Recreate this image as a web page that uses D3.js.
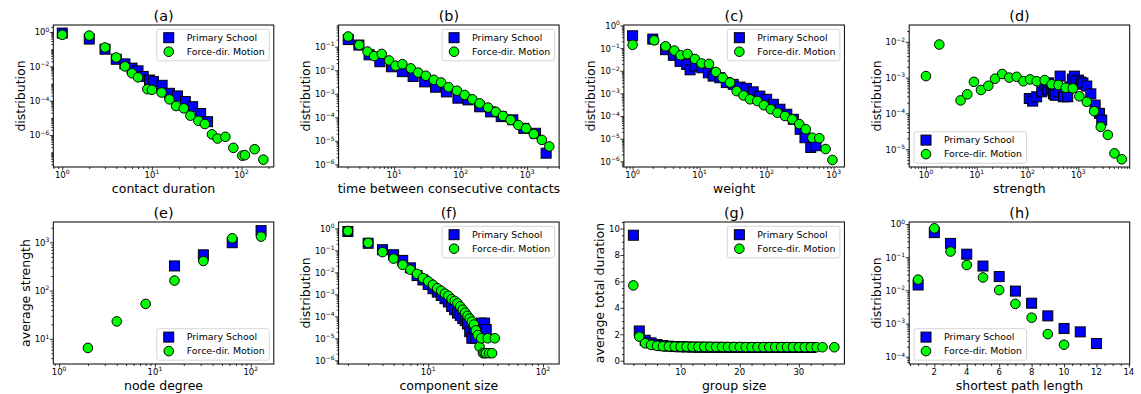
<!DOCTYPE html>
<html>
<head>
<meta charset="utf-8">
<script src="https://cdn.jsdelivr.net/npm/d3@7"></script>
<style>
body { margin: 0; background: #fff; }
svg text { font-family: "DejaVu Sans", sans-serif; fill: #000; }
</style>
</head>
<body>
<svg width="1141" height="394"></svg>
<script>

// (a) contact duration
var durSchoolX = [1, 2, 3, 4, 5, 6, 7, 8, 9.4, 10.4, 13, 15.7, 19.3, 23.6, 28.5, 35, 41.8];
var durSchoolY = [0.87, 0.39, 0.10, 0.026, 0.014, 7.9e-3, 5.5e-3, 2.6e-3, 1.6e-3, 1.3e-3, 7.9e-4, 2.7e-4, 1.9e-4, 8.9e-5, 4.5e-5, 1.8e-5, 6.0e-6];
var durMotionX = [1, 2, 3, 4, 5, 6, 7, 8.9, 10, 12.8, 15.7, 18.6, 22.7, 26.9, 33, 39, 46.8, 54, 66, 81, 102, 109, 140, 175];
var durMotionY = [0.69, 0.62, 0.126, 0.033, 0.010, 4.0e-3, 2.3e-3, 4.7e-4, 4.3e-4, 3.0e-4, 1.2e-4, 4.9e-5, 3.6e-5, 1.35e-5, 6.8e-6, 4.4e-6, 1.1e-6, 6.3e-7, 7.9e-7, 1.8e-7, 6.3e-8, 6.8e-8, 1.5e-7, 3.7e-8];

// (b) time between consecutive contacts
var gapSchoolX = [2.04, 2.95, 4.2, 6.1, 9.1, 13.3, 19.3, 28.8, 42, 61, 91, 129, 193, 282, 407, 609, 891, 1334, 1928];
var gapSchoolY = [0.20, 0.117, 0.045, 0.023, 0.014, 8.7e-3, 5.4e-3, 3.2e-3, 1.9e-3, 1.2e-3, 6.5e-4, 5.5e-4, 2.8e-4, 1.7e-4, 1.07e-4, 7.8e-5, 3.4e-5, 2.1e-5, 3.0e-6];
var gapMotionX = [2.04, 2.98, 3.98, 5.0, 6.5, 8.4, 10.5, 13.3, 17.8, 23, 30, 39.5, 51, 66, 88, 115, 150, 193, 258, 338, 432, 563, 736, 966, 1259, 1660, 2150];
var gapMotionY = [0.27, 0.117, 0.062, 0.040, 0.049, 0.026, 0.0155, 0.018, 0.012, 7.9e-3, 5.8e-3, 3.9e-3, 3.0e-3, 1.9e-3, 1.35e-3, 8.9e-4, 5.8e-4, 3.9e-4, 2.6e-4, 1.7e-4, 1.15e-4, 7.8e-5, 4.7e-5, 3.4e-5, 1.95e-5, 1.1e-5, 5.8e-6];

// (c) weight
var wSchoolX = [1, 2, 3.1, 4.05, 5.1, 6.4, 7.2, 8.5, 10.8, 13.5, 15.9, 20, 25, 31.7, 40, 50, 63, 79, 100, 126, 158, 200, 250, 316, 373, 455, 545];
var wSchoolY = [0.35, 0.25, 0.085, 0.048, 0.026, 0.019, 0.011, 0.016, 0.0135, 8.1e-3, 5.8e-3, 4.9e-3, 3.0e-3, 2.5e-3, 1.9e-3, 1.66e-3, 1.17e-3, 7.6e-4, 5.5e-4, 3.3e-4, 2.0e-4, 1.2e-4, 7.2e-5, 2.6e-5, 1.1e-5, 4.1e-6, 4.9e-6];
var wMotionX = [1, 2.1, 3.1, 4.2, 5.2, 6.6, 8.5, 10.7, 13.8, 17.5, 22, 28.5, 35.7, 45, 56.4, 72.5, 91, 115, 145, 188, 241, 307, 384, 480, 610, 758, 958];
var wMotionY = [0.14, 0.22, 0.12, 0.078, 0.048, 0.055, 0.033, 0.021, 0.020, 8.9e-3, 4.9e-3, 3.0e-3, 1.26e-3, 8.1e-4, 5.5e-4, 4.6e-4, 3.0e-4, 2.0e-4, 1.4e-4, 1.0e-4, 7.2e-5, 4.4e-5, 2.6e-5, 1.1e-5, 1.05e-5, 3.5e-6, 1.15e-6];

// (d) strength
var sSchoolX = [108, 126, 151, 190, 220, 250, 257, 300, 323, 350, 406, 437, 505, 617, 690, 760, 832, 900, 1000, 1100, 1150, 1230, 1462, 1758, 2138, 2600, 2884];
var sSchoolY = [2.6e-4, 2.2e-4, 2.9e-4, 4.0e-4, 6.2e-4, 4.5e-4, 7.1e-4, 5.0e-4, 3.5e-4, 3.2e-4, 4.0e-4, 1.1e-3, 2.9e-4, 2.9e-4, 5.5e-4, 9.0e-4, 1.1e-3, 8.0e-4, 8.5e-4, 7.5e-4, 6.5e-4, 7.1e-4, 5.8e-4, 3.5e-4, 1.7e-4, 1.0e-4, 6.5e-5];
var sMotionX = [1, 1.83, 4.8, 6.5, 8.8, 12.1, 16.9, 22.9, 31.7, 43.7, 61, 83, 112, 151, 217, 299, 406, 564, 776, 1047, 1462, 2041, 2754, 3802, 5129, 7150];
var sMotionY = [1.1e-3, 8.4e-3, 2.3e-4, 3.4e-4, 7.6e-4, 4.5e-4, 5.9e-4, 9.3e-4, 1.26e-3, 1.0e-3, 1.05e-3, 7.9e-4, 8.9e-4, 7.9e-4, 8.5e-4, 6.5e-4, 6.2e-4, 5.2e-4, 5.0e-4, 3.0e-4, 2.1e-4, 1.15e-4, 4.2e-5, 2.5e-5, 7.6e-6, 5.2e-6];

// (e) node degree vs average strength
var degSchoolX = [16, 32, 64, 128];
var degSchoolY = [324, 550, 980, 1740];
var degMotionX = [2, 4, 8, 16, 32, 64, 128];
var degMotionY = [6.5, 23, 53, 161, 410, 1210, 1310];

// (f) component size
var compSchoolX = [2, 3, 4, 5, 6, 7, 8, 9, 10, 11, 12, 13, 14, 15, 16, 17, 18, 19, 20, 21, 22, 23, 24, 25, 26, 27, 29, 31, 32];
var compSchoolY = [0.72, 0.21, 0.107, 0.063, 0.035, 0.016, 7.1e-3, 4.5e-3, 2.8e-3, 1.8e-3, 1.26e-3, 8.9e-4, 6.3e-4, 4.5e-4, 2.8e-4, 2.0e-4, 1.4e-4, 1.1e-4, 7.9e-5, 6.3e-5, 4.5e-5, 2.0e-5, 1.0e-5, 2.5e-5, 1.0e-5, 2.5e-5, 4.9e-5, 4.9e-5, 2.5e-5];
var compMotionX = [2, 3, 4, 5, 6, 7, 8, 9, 10, 11, 12, 13, 14, 15, 16, 17, 18, 19, 20, 21, 22, 23, 24, 25, 26, 27, 28, 29, 30, 31, 32, 33, 34, 36, 38];
var compMotionY = [0.76, 0.22, 0.083, 0.042, 0.022, 0.0132, 8.5e-3, 5.5e-3, 3.9e-3, 2.7e-3, 1.9e-3, 1.45e-3, 1.07e-3, 8.5e-4, 6.0e-4, 5.0e-4, 3.9e-4, 2.8e-4, 2.0e-4, 1.45e-4, 1.05e-4, 7.9e-5, 5.8e-5, 4.2e-5, 2.3e-5, 1.4e-5, 4.2e-6, 1.0e-5, 2.1e-6, 2.1e-6, 2.1e-6, 1.0e-5, 2.1e-6, 2.1e-6, 1.0e-5];

// (g) group size vs average total duration
var grpSchoolX = [2, 3, 4, 5, 6, 7, 8, 9, 10, 11, 12, 13, 14, 15, 16, 17, 18, 19, 20, 21, 22, 23, 24, 25, 26, 27, 28, 29, 30, 31, 32];
var grpSchoolY = [9.5, 2.25, 1.55, 1.35, 1.22, 1.14, 1.1, 1.07, 1.05, 1.04, 1.03, 1.02, 1.02, 1.01, 1.01, 1.01, 1.0, 1.0, 1.0, 1.0, 1.0, 1.0, 1.0, 1.0, 1.0, 1.0, 1.0, 1.0, 1.0, 1.0, 1.0];
var grpMotionX = [2, 3, 4, 5, 6, 7, 8, 9, 10, 11, 12, 13, 14, 15, 16, 17, 18, 19, 20, 21, 22, 23, 24, 25, 26, 27, 28, 29, 30, 31, 32, 33, 34, 36];
var grpMotionY = [5.7, 1.82, 1.32, 1.2, 1.13, 1.09, 1.08, 1.07, 1.06, 1.06, 1.05, 1.05, 1.05, 1.05, 1.04, 1.04, 1.04, 1.04, 1.04, 1.03, 1.03, 1.03, 1.03, 1.03, 1.03, 1.03, 1.03, 1.03, 1.02, 1.02, 1.02, 1.02, 1.02, 1.02];

// (h) shortest path length
var pathSchoolX = [1, 2, 3, 4, 5, 6, 7, 8, 9, 10, 11, 12];
var pathSchoolY = [0.0145, 0.55, 0.26, 0.123, 0.054, 0.026, 9.5e-3, 4.1e-3, 1.7e-3, 7.1e-4, 5.6e-4, 2.5e-4];
var pathMotionX = [1, 2, 3, 4, 5, 6, 7, 8, 9, 10];
var pathMotionY = [0.021, 0.74, 0.148, 0.058, 0.0245, 0.0102, 3.9e-3, 1.5e-3, 4.8e-4, 2.3e-4];

var legendNames = ["Primary School", "Force-dir. Motion"];

var svg = d3.select('svg');

var colX = [53.3, 338.6, 623.9, 909.2];
var rowY = [25, 222];
var pw = 220.5, ph = 142;

// log axes: domains and labelled decades given as exponents
var panels = [
    {id: '(a)', c: 0, r: 0, xs: 'log', xd: [-0.1, 2.36], xl: [0, 1, 2], ys: 'log', yd: [-7.86, 0.41], yl: [0, -2, -4, -6],
        xlab: 'contact duration', ylab: 'distribution', leg: 'ur', s: [durSchoolX, durSchoolY], m: [durMotionX, durMotionY]},
    {id: '(b)', c: 1, r: 0, xs: 'log', xd: [0.165, 3.48], xl: [1, 2, 3], ys: 'log', yd: [-6.11, -0.08], yl: [-1, -2, -3, -4, -5, -6],
        xlab: 'time between consecutive contacts', ylab: 'distribution', leg: 'ur', s: [gapSchoolX, gapSchoolY], m: [gapMotionX, gapMotionY]},
    {id: '(c)', c: 2, r: 0, xs: 'log', xd: [-0.13, 3.16], xl: [0, 1, 2, 3], ys: 'log', yd: [-6.25, 0.02], yl: [0, -1, -2, -3, -4, -5, -6],
        xlab: 'weight', ylab: 'distribution', leg: 'ur', s: [wSchoolX, wSchoolY], m: [wMotionX, wMotionY]},
    {id: '(d)', c: 3, r: 0, xs: 'log', xd: [-0.33, 4.01], xl: [0, 1, 2, 3], ys: 'log', yd: [-5.5, -1.53], yl: [-2, -3, -4, -5],
        xlab: 'strength', ylab: 'distribution', leg: 'll', s: [sSchoolX, sSchoolY], m: [sMotionX, sMotionY]},
    {id: '(e)', c: 0, r: 1, xs: 'log', xd: [-0.06, 2.24], xl: [0, 1, 2], ys: 'log', yd: [0.48, 3.42], yl: [1, 2, 3],
        xlab: 'node degree', ylab: 'average strength', leg: 'lr', s: [degSchoolX, degSchoolY], m: [degMotionX, degMotionY]},
    {id: '(f)', c: 1, r: 1, xs: 'log', xd: [0.22, 2.14], xl: [1, 2], ys: 'log', yd: [-6.17, 0.29], yl: [0, -1, -2, -3, -4, -5, -6],
        xlab: 'component size', ylab: 'distribution', leg: 'ur', s: [compSchoolX, compSchoolY], m: [compMotionX, compMotionY]},
    {id: '(g)', c: 2, r: 1, xs: 'lin', xd: [0.4, 37.7], xt: [10, 20, 30], xm: 2, ys: 'lin', yd: [-0.25, 10.5], yt: [0, 2, 4, 6, 8, 10], ym: 0.5,
        xlab: 'group size', ylab: 'average total duration', leg: 'ur', s: [grpSchoolX, grpSchoolY], m: [grpMotionX, grpMotionY]},
    {id: '(h)', c: 3, r: 1, xs: 'lin', xd: [0.45, 14.05], xt: [2, 4, 6, 8, 10, 12, 14], xm: 0.5, ys: 'log', yd: [-4.22, 0.06], yl: [0, -1, -2, -3, -4],
        xlab: 'shortest path length', ylab: 'distribution', leg: 'll', s: [pathSchoolX, pathSchoolY], m: [pathMotionX, pathMotionY]}
];

function e10(e) { return Math.pow(10, e); }

function logMinor(d, labelled) {
    var out = [];
    for (var n = Math.floor(d[0]); n <= Math.ceil(d[1]); n++) {
        for (var k = 1; k <= 9; k++) {
            if (k == 1 && labelled.indexOf(n) >= 0) continue;
            var v = k * Math.pow(10, n);
            var lv = Math.log10(v);
            if (lv >= d[0] && lv <= d[1]) out.push(v);
        }
    }
    return out;
}

function linMinor(d, step, majors) {
    var out = [];
    for (var v = Math.ceil(d[0] / step) * step; v <= d[1] + 1e-9; v += step) {
        var r = Math.round(v * 1000) / 1000;
        if (majors.indexOf(r) < 0) out.push(r);
    }
    return out;
}

function powLabel(t, e) {
    t.append('tspan').text('10');
    t.append('tspan').attr('font-size', 6).attr('dy', -3.6).text(e < 0 ? '\u2212' + (-e) : e);
}

function styleTicks(sel) {
    sel.selectAll('.domain').remove();
    sel.selectAll('line').attr('stroke', '#000').attr('stroke-width', 0.8);
}

function drawPanel(p) {
    var x0 = colX[p.c], y0 = rowY[p.r];
    var g = svg.append('g').attr('transform', 'translate(' + x0 + ',' + y0 + ')');

    var x, y, xMaj, xMin, yMaj, yMin;
    if (p.xs == 'log') {
        x = d3.scaleLog().domain(p.xd.map(e10)).range([0, pw]);
        xMaj = p.xl.map(e10);
        xMin = logMinor(p.xd, p.xl);
    } else {
        x = d3.scaleLinear().domain(p.xd).range([0, pw]);
        xMaj = p.xt;
        xMin = linMinor(p.xd, p.xm, p.xt);
    }
    if (p.ys == 'log') {
        y = d3.scaleLog().domain(p.yd.map(e10)).range([ph, 0]);
        yMaj = p.yl.map(e10);
        yMin = logMinor(p.yd, p.yl);
    } else {
        y = d3.scaleLinear().domain(p.yd).range([ph, 0]);
        yMaj = p.yt;
        yMin = linMinor(p.yd, p.ym, p.yt);
    }

    // x axis
    var gx = g.append('g').attr('transform', 'translate(0,' + ph + ')');
    gx.append('g').call(d3.axisBottom(x).tickValues(xMin).tickSize(2).tickSizeOuter(0).tickFormat(''));
    gx.append('g').call(d3.axisBottom(x).tickValues(xMaj).tickSize(3.5).tickSizeOuter(0).tickFormat(''));
    styleTicks(gx);
    xMaj.forEach(function(v) {
        var t = gx.append('text').attr('x', x(v)).attr('y', 10.8)
            .attr('text-anchor', 'middle').attr('font-size', 8.5);
        if (p.xs == 'log') powLabel(t, Math.round(Math.log10(v)));
        else t.text(v);
    });

    // y axis
    var gy = g.append('g');
    gy.append('g').call(d3.axisLeft(y).tickValues(yMin).tickSize(2).tickSizeOuter(0).tickFormat(''));
    gy.append('g').call(d3.axisLeft(y).tickValues(yMaj).tickSize(3.5).tickSizeOuter(0).tickFormat(''));
    styleTicks(gy);
    var yLabels = gy.append('g');
    yMaj.forEach(function(v) {
        var t = yLabels.append('text').attr('x', -4).attr('y', y(v) + 3.4)
            .attr('text-anchor', 'end').attr('font-size', 8.5);
        if (p.ys == 'log') powLabel(t, Math.round(Math.log10(v)));
        else t.text(v);
    });

    // markers
    var sq = d3.zip(p.s[0], p.s[1]);
    var ci = d3.zip(p.m[0], p.m[1]);
    g.append('g').selectAll('rect').data(sq).enter().append('rect')
        .attr('x', function(d) { return x(d[0]) - 5; })
        .attr('y', function(d) { return y(d[1]) - 5; })
        .attr('width', 10).attr('height', 10)
        .attr('fill', '#0000ff').attr('stroke', '#000').attr('stroke-width', 1);
    g.append('g').selectAll('circle').data(ci).enter().append('circle')
        .attr('cx', function(d) { return x(d[0]); })
        .attr('cy', function(d) { return y(d[1]); })
        .attr('r', 4.8)
        .attr('fill', '#00ff00').attr('stroke', '#000').attr('stroke-width', 1);

    // frame
    g.append('rect').attr('width', pw).attr('height', ph)
        .attr('fill', 'none').attr('stroke', '#000').attr('stroke-width', 1);

    // titles
    g.append('text').attr('x', pw / 2).attr('y', -4.5).attr('text-anchor', 'middle')
        .attr('font-size', 14.4).text(p.id);
    g.append('text').attr('x', pw / 2).attr('y', ph + 26).attr('text-anchor', 'middle')
        .attr('font-size', 12.5).text(p.xlab);
    var minX = yLabels.node().getBBox().x;
    g.append('text').attr('transform', 'translate(' + (minX - 5) + ',' + (ph / 2) + ') rotate(-90)')
        .attr('text-anchor', 'middle').attr('font-size', 12.5).text(p.ylab);

    drawLegend(g, p.leg);
}

function drawLegend(g, pos) {
    var lg = g.append('g');
    var box = lg.append('rect');
    var w = 0;
    legendNames.forEach(function(name, i) {
        var cy = 8.4 + i * 14;
        if (i == 0) {
            lg.append('rect').attr('x', 12 - 5).attr('y', cy - 5).attr('width', 10).attr('height', 10)
                .attr('fill', '#0000ff').attr('stroke', '#000').attr('stroke-width', 1);
        } else {
            lg.append('circle').attr('cx', 12).attr('cy', cy).attr('r', 4.8)
                .attr('fill', '#00ff00').attr('stroke', '#000').attr('stroke-width', 1);
        }
        var t = lg.append('text').attr('x', 30).attr('y', cy + 3.4).attr('font-size', 9.4).text(name);
        w = Math.max(w, t.node().getComputedTextLength());
    });
    var lw = 30 + w + 4.5, lh = 31.5;
    box.attr('width', lw).attr('height', lh).attr('rx', 2)
        .attr('fill', '#fff').attr('fill-opacity', 0.8)
        .attr('stroke', '#cccccc').attr('stroke-width', 0.8);
    var lx = pos[1] == 'r' ? pw - 4.5 - lw : 4.8;
    var ly = pos[0] == 'u' ? 4.3 : ph - 3.8 - lh;
    lg.attr('transform', 'translate(' + lx + ',' + ly + ')');
}

panels.forEach(drawPanel);

</script>
</body>
</html>
